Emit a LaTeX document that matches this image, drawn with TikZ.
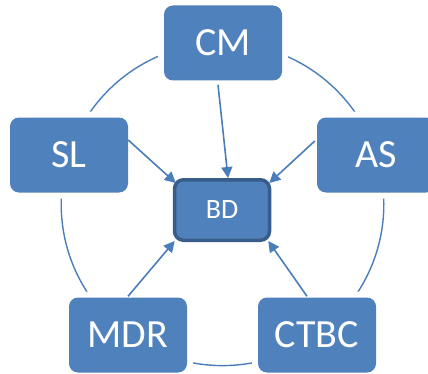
\documentclass[tikz,border=0pt]{standalone}
\usepackage{fontspec}
\setmainfont{Carlito}
\usetikzlibrary{arrows.meta}
\definecolor{boxblue}{HTML}{4F81BD}
\definecolor{boxdark}{HTML}{385D8A}
\definecolor{linkblue}{HTML}{4A7EBB}
\tikzset{
  outerbox/.style={rectangle, rounded corners=9pt, fill=boxblue, draw=none,
    minimum width=118pt, minimum height=75pt, inner sep=0pt, text=white,
    font=\fontsize{40}{40}\selectfont,
    preaction={draw=white, line width=12pt}},
  centerbox/.style={rectangle, rounded corners=9pt, fill=boxblue, draw=boxdark,
    line width=3.5pt, minimum width=95pt, minimum height=60.5pt, inner sep=0pt,
    text=white, font=\fontsize{28}{28}\selectfont},
  ring/.style={draw=linkblue, line width=1.4pt},
  link/.style={draw=linkblue, line width=1.6pt, -{Triangle[length=11pt,width=11pt]}}
}
\begin{document}
\begin{tikzpicture}[x=1pt,y=1pt]
\useasboundingbox (0,0) rectangle (428,373);
\coordinate (ringc) at (222.5,168.7);
\draw[ring] (ringc) circle[radius=161.3pt];
\node[outerbox] (CM) at (223,330) {CM};
\node[outerbox] (SL) at (69,218) {SL};
\node[outerbox] (AS) at (376,218) {AS};
\node[outerbox] (MDR) at (128,38) {MDR};
\node[outerbox] (CTBC) at (317,38) {CTBC};
\node[centerbox] (BD) at (222,163) {BD};
\draw[link] ([xshift=-5pt,yshift=-4pt]CM.south) -- ([xshift=6pt]BD.north);
\draw[link] ([yshift=15pt]SL.east) -- ([xshift=3pt,yshift=-5pt]BD.north west);
\draw[link] ([xshift=-2pt,yshift=14pt]AS.west) -- ([xshift=-2pt,yshift=-5pt]BD.north east);
\draw[link] ([yshift=1pt]MDR.north) -- ([xshift=2pt,yshift=1pt]BD.south west);
\draw[link] ([xshift=-10pt,yshift=1pt]CTBC.north) -- ([xshift=-3pt,yshift=1pt]BD.south east);
\end{tikzpicture}
\end{document}
